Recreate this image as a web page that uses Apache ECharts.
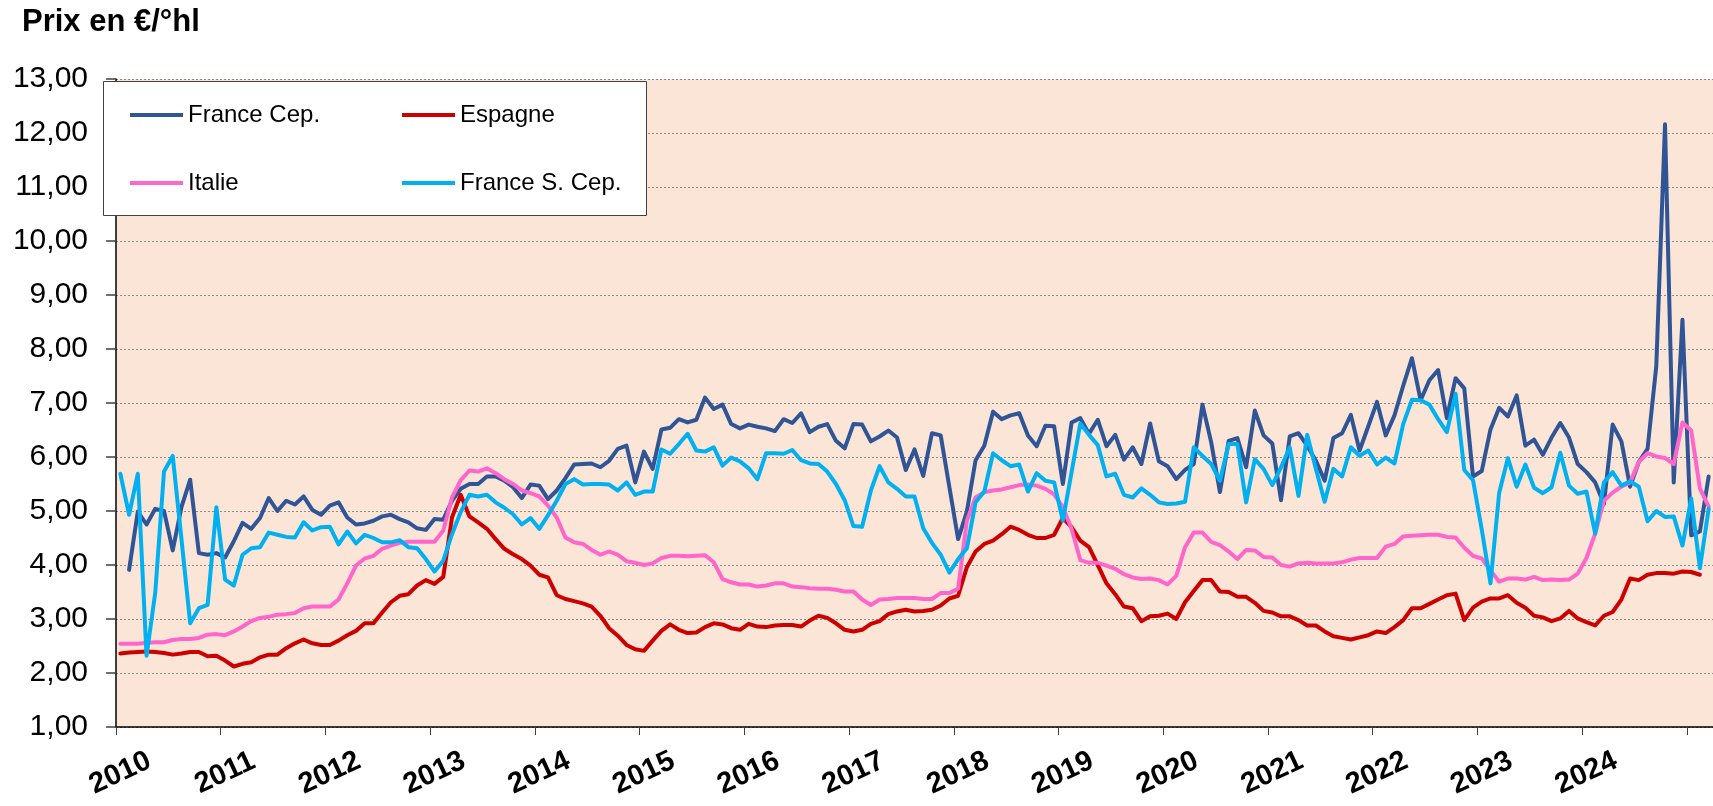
<!DOCTYPE html>
<html>
<head>
<meta charset="utf-8">
<script src="https://cdn.jsdelivr.net/npm/echarts@6/dist/echarts.min.js"></script>
<style>
html,body{margin:0;padding:0;background:#fff;}
#chart{width:1713px;height:806px;}
</style>
</head>
<body>
<div id="chart"></div>
<script>
// ---- Data (monthly, Jan 2010 .. Mar 2025) ----
const years = [2010,2011,2012,2013,2014,2015,2016,2017,2018,2019,2020,2021,2022,2023,2024,2025];
const lastYearMonths = 3;
const seriesNames = ['France Cep.', 'Espagne', 'Italie', 'France S. Cep.'];
const yTicks = [1,2,3,4,5,6,7,8,9,10,11,12,13];

const franceCep = [null,3.91,4.99,4.75,5.04,5.00,4.27,5.07,5.58,4.22,4.19,4.22,
4.14,4.44,4.78,4.67,4.87,5.24,5.00,5.19,5.12,5.27,5.02,4.93,
5.10,5.16,4.88,4.75,4.77,4.82,4.90,4.93,4.85,4.79,4.68,4.65,
4.85,4.84,5.19,5.41,5.50,5.50,5.64,5.64,5.56,5.44,5.24,5.49,
5.47,5.22,5.38,5.61,5.86,5.87,5.88,5.81,5.93,6.15,6.21,5.53,
6.10,5.78,6.51,6.54,6.70,6.64,6.69,7.10,6.89,6.97,6.61,6.53,
6.60,6.56,6.53,6.48,6.70,6.63,6.81,6.46,6.56,6.61,6.30,6.16,
6.61,6.60,6.29,6.38,6.49,6.36,5.76,6.14,5.65,6.44,6.40,5.44,
4.48,4.99,5.94,6.21,6.84,6.70,6.77,6.81,6.40,6.20,6.58,6.57,
5.50,6.64,6.72,6.43,6.69,6.20,6.41,5.95,6.18,5.87,6.62,5.92,
5.83,5.59,5.76,5.87,6.97,6.27,5.35,6.30,6.35,5.81,6.86,6.40,
6.25,5.20,6.38,6.44,6.21,5.93,5.56,6.35,6.44,6.78,6.12,6.57,
7.02,6.40,6.77,7.32,7.83,7.05,7.42,7.61,6.72,7.46,7.27,5.64,
5.74,6.51,6.91,6.75,7.14,6.21,6.32,6.04,6.36,6.63,6.36,5.87,
5.72,5.53,5.13,6.60,6.29,5.45,5.91,6.15,7.68,12.16,5.53,8.54,
4.55,4.62,5.64];

const espagne = [2.36,2.38,2.39,2.40,2.39,2.37,2.34,2.36,2.39,2.39,2.31,2.32,
2.23,2.12,2.17,2.20,2.29,2.34,2.34,2.46,2.55,2.62,2.55,2.52,
2.52,2.60,2.70,2.78,2.92,2.92,3.12,3.31,3.43,3.46,3.62,3.72,
3.65,3.78,4.88,5.30,4.90,4.79,4.67,4.48,4.30,4.20,4.11,3.99,
3.82,3.77,3.44,3.37,3.33,3.29,3.23,3.06,2.83,2.69,2.52,2.44,
2.41,2.60,2.78,2.90,2.80,2.74,2.75,2.85,2.92,2.90,2.83,2.80,
2.91,2.86,2.85,2.88,2.89,2.89,2.86,2.97,3.06,3.02,2.92,2.80,
2.77,2.80,2.91,2.96,3.09,3.14,3.17,3.14,3.15,3.17,3.25,3.38,
3.43,3.96,4.25,4.39,4.45,4.57,4.71,4.65,4.56,4.50,4.50,4.56,
4.87,4.70,4.45,4.33,4.00,3.66,3.46,3.23,3.20,2.96,3.05,3.06,
3.10,3.00,3.31,3.52,3.72,3.72,3.51,3.50,3.41,3.41,3.30,3.15,
3.12,3.05,3.05,2.98,2.88,2.88,2.77,2.68,2.65,2.62,2.66,2.70,
2.77,2.74,2.85,2.98,3.20,3.20,3.28,3.36,3.44,3.47,2.98,3.21,
3.32,3.38,3.38,3.44,3.30,3.21,3.06,3.03,2.96,3.01,3.15,3.01,
2.94,2.88,3.06,3.13,3.36,3.75,3.72,3.82,3.85,3.85,3.84,3.88,
3.87,3.82,null];

const italie = [2.54,2.54,2.54,2.56,2.57,2.57,2.61,2.63,2.63,2.65,2.71,2.72,
2.70,2.77,2.86,2.96,3.02,3.04,3.08,3.09,3.11,3.20,3.23,3.23,
3.23,3.36,3.66,3.99,4.12,4.17,4.30,4.36,4.41,4.43,4.43,4.43,
4.43,4.64,5.25,5.57,5.75,5.73,5.79,5.70,5.59,5.50,5.38,5.33,
5.27,5.10,4.88,4.51,4.42,4.39,4.28,4.19,4.25,4.19,4.07,4.04,
4.00,4.03,4.13,4.17,4.17,4.16,4.17,4.18,4.05,3.74,3.68,3.64,
3.64,3.60,3.62,3.66,3.66,3.60,3.59,3.57,3.56,3.56,3.54,3.51,
3.51,3.36,3.26,3.36,3.37,3.39,3.39,3.39,3.37,3.37,3.48,3.48,
3.56,4.82,5.25,5.35,5.38,5.40,5.44,5.48,5.49,5.47,5.41,5.31,
5.07,4.67,4.09,4.04,4.04,3.99,3.93,3.83,3.77,3.74,3.75,3.72,
3.64,3.80,4.33,4.60,4.60,4.43,4.37,4.25,4.11,4.28,4.27,4.15,
4.14,4.00,3.97,4.03,4.04,4.03,4.03,4.03,4.05,4.10,4.13,4.13,
4.13,4.34,4.39,4.53,4.54,4.55,4.56,4.56,4.52,4.51,4.32,4.17,
4.12,3.90,3.69,3.75,3.75,3.73,3.78,3.72,3.73,3.72,3.73,3.84,
4.13,4.58,5.19,5.34,5.45,5.53,5.91,6.07,6.01,5.98,5.87,6.64,
6.49,5.42,5.08];

const franceSCep = [5.69,4.93,5.69,2.32,3.49,5.73,6.02,4.48,2.92,3.20,3.26,5.07,
3.73,3.62,4.19,4.31,4.33,4.60,4.56,4.52,4.51,4.79,4.64,4.70,
4.71,4.38,4.62,4.40,4.56,4.50,4.42,4.42,4.46,4.33,4.31,4.11,
3.88,4.08,4.57,4.98,5.30,5.27,5.30,5.16,5.06,4.94,4.75,4.87,
4.67,4.92,5.19,5.50,5.59,5.49,5.50,5.50,5.49,5.38,5.53,5.30,
5.36,5.36,6.14,6.06,6.24,6.43,6.12,6.10,6.18,5.84,5.99,5.92,
5.79,5.59,6.07,6.07,6.06,6.13,5.94,5.88,5.87,5.73,5.50,5.20,
4.72,4.71,5.38,5.83,5.53,5.41,5.27,5.27,4.68,4.41,4.19,3.86,
4.11,4.31,5.16,5.36,6.07,5.94,5.83,5.86,5.36,5.70,5.56,5.53,
4.82,5.72,6.62,6.41,6.22,5.64,5.69,5.30,5.25,5.42,5.30,5.16,
5.13,5.14,5.17,6.18,6.02,5.87,5.56,6.24,6.24,5.16,5.96,5.78,
5.48,5.81,6.18,5.28,6.41,5.78,5.17,5.78,5.64,6.18,6.02,6.12,
5.86,5.99,5.88,6.61,7.06,7.05,6.97,6.70,6.46,7.17,5.76,5.57,
4.66,3.66,5.34,5.98,5.45,5.86,5.43,5.33,5.44,6.08,5.47,5.32,
5.36,4.58,5.53,5.72,5.47,5.55,5.45,4.81,5.00,4.89,4.90,4.36,
5.23,3.94,5.04];

// ---- Category labels ----
const categories = [];
years.forEach(function (y, i) {
  const n = (i === years.length - 1) ? lastYearMonths : 12;
  for (let m = 1; m <= n; m++) categories.push(y + '-' + (m < 10 ? '0' + m : m));
});

const colors = {
  'France Cep.': '#2F5597',
  'Espagne': '#CC0000',
  'Italie': '#FF66CC',
  'France S. Cep.': '#00B0F0'
};
const dataByName = {
  'France Cep.': franceCep,
  'Espagne': espagne,
  'Italie': italie,
  'France S. Cep.': franceSCep
};

const FONT = '"Liberation Sans", Arial, sans-serif';

const chart = echarts.init(document.getElementById('chart'), null, {renderer: 'canvas'});

const legendCommon = {
  orient: 'vertical',
  top: 103,
  itemGap: 44,
  itemWidth: 53,
  itemHeight: 4,
  icon: 'rect',
  padding: 0,
  z: 20,
  selectedMode: false,
  textStyle: {fontFamily: FONT, fontSize: 24, color: '#000', lineHeight: 24}
};

const option = {
  animation: false,
  backgroundColor: '#ffffff',
  grid: {
    left: 116, top: 79, width: 1600, height: 648,
    show: true, backgroundColor: '#FBE5D6', borderWidth: 0,
    containLabel: false
  },
  graphic: [
    {
      type: 'rect', z: 15, zlevel: 0,
      shape: {x: 103.5, y: 81.5, width: 543, height: 134},
      style: {fill: '#ffffff', stroke: '#404040', lineWidth: 1}
    },
    {
      type: 'text', left: 22, top: 7, z: 20,
      style: {text: 'Prix en €/°hl', font: 'bold 31px ' + FONT, fill: '#000'}
    }
  ],
  legend: [
    Object.assign({}, legendCommon, {left: 130, data: ['France Cep.', 'Italie']}),
    Object.assign({}, legendCommon, {left: 402, data: ['Espagne', 'France S. Cep.']})
  ],
  xAxis: {
    type: 'category',
    data: categories,
    boundaryGap: true,
    axisLine: {show: true, onZero: false, lineStyle: {color: '#000', width: 1.5}},
    axisTick: {show: true, interval: 11, length: 8, lineStyle: {color: '#404040', width: 1}},
    axisLabel: {
      interval: function (idx) { return idx % 12 === 0 && idx < 180; },
      formatter: function (v) { return v.slice(0, 4); },
      rotate: 25,
      align: 'center',
      verticalAlign: 'middle',
      margin: 46,
      fontFamily: FONT,
      fontWeight: 'bold',
      fontSize: 29,
      color: '#000'
    },
    splitLine: {show: false}
  },
  yAxis: {
    type: 'value',
    min: yTicks[0],
    max: yTicks[yTicks.length - 1],
    interval: 1,
    axisLine: {show: true, lineStyle: {color: '#000', width: 1.5}},
    axisTick: {show: true, length: 10, lineStyle: {color: '#404040', width: 1.5}},
    axisLabel: {
      margin: 28,
      fontFamily: FONT,
      fontSize: 30,
      color: '#000',
      formatter: function (v) { return v.toFixed(2).replace('.', ','); }
    },
    splitLine: {show: true, lineStyle: {color: '#8c8c8c', width: 1, type: [2, 2]}}
  },
  series: seriesNames.map(function (name) {
    return {
      name: name,
      type: 'line',
      data: dataByName[name],
      showSymbol: false,
      symbol: 'none',
      connectNulls: false,
      smooth: false,
      lineStyle: {color: colors[name], width: 4, join: 'round', cap: 'round'},
      itemStyle: {color: colors[name]},
      z: 3
    };
  })
};

chart.setOption(option);
</script>
</body>
</html>
